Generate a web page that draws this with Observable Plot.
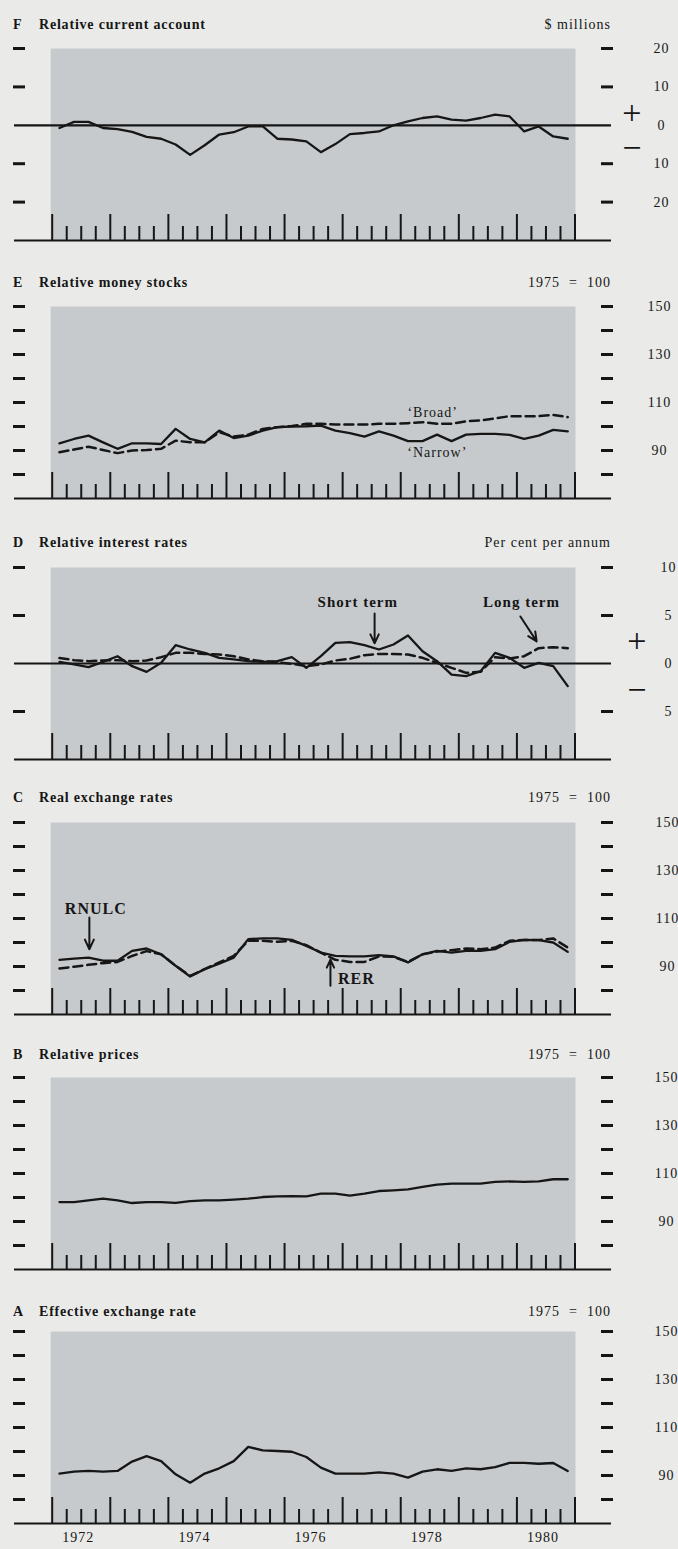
<!DOCTYPE html>
<html>
<head>
<meta charset="utf-8">
<script src="https://cdn.jsdelivr.net/npm/d3@7"></script>
<script src="https://cdn.jsdelivr.net/npm/@observablehq/plot@0.6"></script>
<style>
  html, body { margin: 0; padding: 0; }
  body { background: #eaeae8; width: 678px; height: 1549px; position: relative; overflow: hidden;
         font-family: "Liberation Serif", "DejaVu Serif", serif; color: #161616; }
  .hdr { position: absolute; height: 20px; line-height: 20px; white-space: pre; }
  .letter { left: 13px; font-weight: bold; font-size: 14px; }
  .ttl { left: 39px; font-weight: bold; font-size: 14px; letter-spacing: 0.8px; }
  .unit { right: 67px; font-size: 14px; letter-spacing: 1px; }
  .panel { position: absolute; left: 0; }
</style>
</head>
<body>
<div id="root"></div>
<script>
// ---------- data (quarterly, 1972 Q1 – 1980 Q4) ----------
const quarters = [
  "1972Q1","1972Q2","1972Q3","1972Q4","1973Q1","1973Q2","1973Q3","1973Q4",
  "1974Q1","1974Q2","1974Q3","1974Q4","1975Q1","1975Q2","1975Q3","1975Q4",
  "1976Q1","1976Q2","1976Q3","1976Q4","1977Q1","1977Q2","1977Q3","1977Q4",
  "1978Q1","1978Q2","1978Q3","1978Q4","1979Q1","1979Q2","1979Q3","1979Q4",
  "1980Q1","1980Q2","1980Q3","1980Q4"
];
const majorTicks = [1972, 1973, 1974, 1975, 1976, 1977, 1978, 1979, 1980, 1981];
const yearLabels = ["1972", "1974", "1976", "1978", "1980"];

// F Relative current account ($ millions)
const currentAccount = [-0.7, 0.9, 0.9, -0.7, -1.0, -1.7, -3.0, -3.5, -5.0, -7.7, -5.2, -2.4,
  -1.8, -0.3, -0.3, -3.5, -3.7, -4.2, -7.0, -4.9, -2.3, -2.0, -1.6, 0.0,
  1.0, 1.9, 2.3, 1.5, 1.2, 1.9, 2.8, 2.3, -1.6, -0.3, -2.9, -3.5];
// E Relative money stocks (1975 = 100)
const moneyNarrow = [93.0, 94.8, 96.2, 93.4, 90.7, 93.0, 93.0, 92.7, 99.0, 94.8, 93.4, 98.3,
  95.2, 96.2, 98.3, 99.7, 100.0, 100.1, 100.4, 98.3, 97.2, 95.8, 98.0, 96.2,
  93.9, 93.9, 96.6, 93.9, 96.6, 96.9, 96.9, 96.5, 94.8, 96.2, 98.6, 98.0];
const moneyBroad = [89.3, 90.4, 91.6, 90.2, 88.9, 90.0, 90.2, 90.7, 94.1, 93.4, 93.4, 97.6,
  95.8, 96.6, 99.0, 99.7, 100.2, 101.1, 101.1, 100.8, 100.8, 100.8, 101.1, 101.1,
  101.4, 101.8, 101.1, 101.1, 102.2, 102.5, 103.4, 104.3, 104.3, 104.3, 104.8, 103.9];
// D Relative interest rates (per cent per annum)
const rateShort = [0.17, -0.1, -0.38, 0.17, 0.76, -0.28, -0.87, 0.07, 1.91, 1.46, 1.11, 0.59,
  0.42, 0.24, 0.17, 0.24, 0.66, -0.45, 0.76, 2.15, 2.22, 1.91, 1.46, 1.98,
  2.92, 1.28, 0.24, -1.15, -1.32, -0.8, 1.11, 0.59, -0.45, 0.07, -0.28, -2.36];
const rateLong = [0.57, 0.35, 0.24, 0.31, 0.35, 0.24, 0.31, 0.66, 1.11, 1.11, 1.0, 0.94,
  0.76, 0.42, 0.24, 0.14, -0.03, -0.28, -0.1, 0.31, 0.49, 0.87, 1.0, 1.0,
  0.94, 0.59, 0.07, -0.45, -0.97, -0.87, 0.66, 0.52, 0.76, 1.6, 1.7, 1.6];
// C Real exchange rates (1975 = 100)
const rnulc = [92.8, 93.3, 93.7, 92.4, 92.4, 96.5, 97.5, 95.1, 90.3, 85.8, 88.9, 91.2,
  93.7, 101.4, 101.7, 101.7, 101.1, 98.6, 95.8, 94.4, 94.2, 94.2, 94.7, 94.2,
  91.7, 95.1, 96.5, 95.8, 96.5, 96.5, 97.2, 100.3, 101.1, 101.0, 100.0, 96.1];
const rer = [89.2, 89.9, 90.7, 91.4, 91.9, 94.4, 96.4, 95.1, 90.3, 86.1, 88.9, 91.7,
  94.4, 100.7, 100.7, 100.3, 100.7, 98.9, 95.8, 92.8, 91.9, 91.9, 94.2, 94.0,
  91.9, 95.1, 96.2, 96.8, 97.5, 97.2, 97.9, 100.7, 101.0, 101.0, 101.7, 97.9];
// B Relative prices (1975 = 100)
const relPrices = [98.1, 98.1, 98.8, 99.5, 98.8, 97.7, 98.1, 98.1, 97.8, 98.5, 98.8, 98.8,
  99.1, 99.5, 100.2, 100.5, 100.6, 100.5, 101.6, 101.6, 100.8, 101.6, 102.7, 103.0,
  103.4, 104.4, 105.4, 105.8, 105.8, 105.8, 106.5, 106.7, 106.5, 106.7, 107.6, 107.6];
// A Effective exchange rate (1975 = 100)
const effRate = [90.8, 91.6, 91.9, 91.6, 91.9, 95.8, 98.1, 96.0, 90.5, 87.0, 90.8, 93.0,
  96.0, 101.9, 100.5, 100.2, 99.9, 97.7, 93.3, 90.8, 90.8, 90.8, 91.3, 90.8,
  89.1, 91.6, 92.6, 91.9, 93.0, 92.6, 93.5, 95.3, 95.3, 94.9, 95.2, 91.9];

const indexTicks = [150, 140, 130, 120, 110, 100, 90, 80];
const indexLabels = [150, 130, 110, 90];

// ---------- helpers ----------
const INK = "#161616";
const SHADE = "#c7cacd";
const W = 678, ML = 51.7, MR = 103.5, FH = 192;
const qYear = q => +q.slice(0, 4) + (+q.slice(5) - 0.5) / 4;
const minorTicks = quarters.map(q => +q.slice(0, 4) + (+q.slice(5) - 1) / 4).filter(v => v % 1 !== 0);
const series = arr => quarters.map((q, i) => ({x: qYear(q), v: arr[i]}));

const solid = arr => Plot.line(series(arr), {x: "x", y: "v", stroke: INK, strokeWidth: 2.3, strokeLinejoin: "round"});
const dashed = arr => Plot.line(series(arr), {x: "x", y: "v", stroke: INK, strokeWidth: 2.5, strokeDasharray: "9,5"});
const label = (rows, opts = {}) => Plot.text(rows, {x: "x", y: "y", text: "t", fill: INK, fontSize: 14, fontWeight: "bold", ...opts});
const arrow = rows => Plot.arrow(rows, {x1: "x1", y1: "y1", x2: "x2", y2: "y2", stroke: INK, strokeWidth: 2, headLength: 8, headAngle: 50});

const panels = [
  {letter: "F", title: "Relative current account", unit: "$ millions", titleY: 25, top: 48,
   domain: [-30, 20], ticks: [20, 10, -10, -20], labels: [20, 10, 0, -10, -20], labelX: 661, zero: true,
   plus: 3.2, minus: -6, signX: 642,
   marks: [solid(currentAccount)]},
  {letter: "E", title: "Relative money stocks", unit: "1975  =  100", titleY: 283, top: 306,
   domain: [70, 150], ticks: indexTicks, labels: indexLabels, labelX: 659,
   marks: [dashed(moneyBroad), solid(moneyNarrow),
     label([{x: 1978.55, y: 105.8, t: "\u2018Broad\u2019"}, {x: 1978.63, y: 89.2, t: "\u2018Narrow\u2019"}], {fontWeight: "normal", fontSize: 14})]},
  {letter: "D", title: "Relative interest rates", unit: "Per cent per annum", titleY: 543, top: 567,
   domain: [-10, 10], ticks: [10, 5, -5], labels: [10, 5, 0, -5], labelX: 668, zero: true,
   plus: 2.3, minus: -2.8, signX: 647,
   marks: [dashed(rateLong), solid(rateShort),
     label([{x: 1977.26, y: 6.4, t: "Short term"}, {x: 1980.08, y: 6.4, t: "Long term"}], {fontSize: 15}),
     arrow([{x1: 1977.55, y1: 5.2, x2: 1977.55, y2: 2.1}, {x1: 1980.06, y1: 4.9, x2: 1980.34, y2: 2.3}])]},
  {letter: "C", title: "Real exchange rates", unit: "1975  =  100", titleY: 798, top: 822,
   domain: [70, 150], ticks: indexTicks, labels: indexLabels, labelX: 667,
   marks: [dashed(rer), solid(rnulc),
     label([{x: 1972.75, y: 114.0, t: "RNULC"}], {fontSize: 16}),
     label([{x: 1976.92, y: 85.0, t: "RER"}], {fontSize: 16, textAnchor: "start"}),
     arrow([{x1: 1972.64, y1: 110.4, x2: 1972.64, y2: 97.2}, {x1: 1976.79, y1: 82.0, x2: 1976.79, y2: 92.8}])]},
  {letter: "B", title: "Relative prices", unit: "1975  =  100", titleY: 1055, top: 1077,
   domain: [70, 150], ticks: indexTicks, labels: indexLabels, labelX: 666,
   marks: [solid(relPrices)]},
  {letter: "A", title: "Effective exchange rate", unit: "1975  =  100", titleY: 1312, top: 1331,
   domain: [70, 150], ticks: indexTicks, labels: indexLabels, labelX: 666, years: true,
   marks: [solid(effRate)]}
];

const root = document.getElementById("root");
for (const p of panels) {
  const mt = 12, mb = p.years ? 34 : 12;
  const marks = [
    Plot.frame({fill: SHADE, stroke: "none", insetLeft: -1.5, insetRight: -0.5}),
    Plot.axisY(p.ticks, {anchor: "left", tickSize: 12, dx: -26.7, strokeWidth: 3, tickFormat: () => "", label: null, stroke: INK}),
    Plot.axisY(p.ticks, {anchor: "right", tickSize: 12, dx: 25.5, strokeWidth: 3, tickFormat: () => "", label: null, stroke: INK}),
    Plot.axisY(p.labels, {anchor: "right", tickSize: 0, tickPadding: 0, dx: p.labelX - (W - MR), textAnchor: "middle",
      tickFormat: d => String(Math.abs(d)), label: null, fontSize: 14, fill: INK}),
    Plot.ruleX(minorTicks, {insetTop: FH - 14, stroke: INK, strokeWidth: 2}),
    Plot.ruleX(majorTicks, {insetTop: FH - 26, stroke: INK, strokeWidth: 2}),
    Plot.ruleY([p.domain[0]], {insetLeft: -37.7, insetRight: -36.5, stroke: INK, strokeWidth: 2.2})
  ];
  if (p.zero) {
    marks.push(Plot.ruleY([0], {insetLeft: -37.7, insetRight: -36.5, stroke: INK, strokeWidth: 2.2}));
    marks.push(Plot.text([{y: p.plus, t: "+"}], {y: "y", text: "t", frameAnchor: "right", dx: p.signX - (W - MR), fontSize: 34, fill: INK}));
    marks.push(Plot.text([{y: p.minus, t: "\u2212"}], {y: "y", text: "t", frameAnchor: "right", dx: p.signX - (W - MR), fontSize: 34, fill: INK}));
  }
  if (p.years) {
    marks.push(Plot.axisX(yearLabels.map(d => +d + 0.5), {anchor: "bottom", tickSize: 0, tickPadding: 9, dx: -3,
      tickFormat: d => String(Math.floor(d)), label: null, fontSize: 14, fill: INK}));
  }
  marks.push(...p.marks);

  const chart = Plot.plot({
    width: W, height: mt + FH + mb,
    marginLeft: ML, marginRight: MR, marginTop: mt, marginBottom: mb,
    x: {domain: [1972, 1981], axis: null},
    y: {domain: p.domain, axis: null},
    style: {background: "transparent", fontFamily: "Liberation Serif", fontSize: "14px", color: INK, overflow: "visible"},
    marks
  });
  chart.setAttribute("class", (chart.getAttribute("class") || "") + " panel");
  chart.style.position = "absolute";
  chart.style.left = "0px";
  chart.style.top = (p.top - mt) + "px";
  d3.select(chart).selectAll("text").attr("letter-spacing", "1px");
  root.appendChild(chart);

  const mk = (cls, txt) => {
    const d = document.createElement("div");
    d.className = "hdr " + cls;
    d.textContent = txt;
    d.style.top = (p.titleY - 10) + "px";
    root.appendChild(d);
  };
  mk("letter", p.letter);
  mk("ttl", p.title);
  mk("unit", p.unit);
}
</script>
</body>
</html>
